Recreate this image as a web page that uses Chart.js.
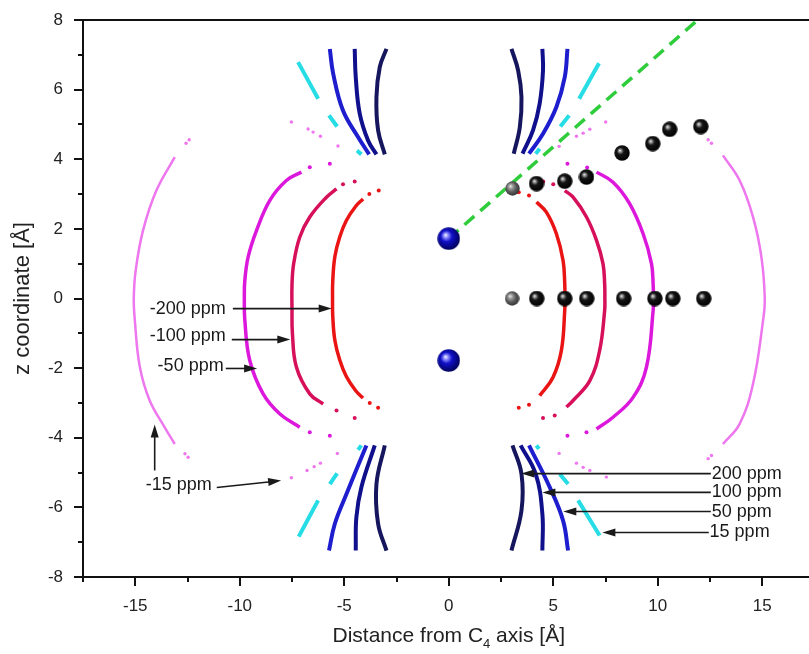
<!DOCTYPE html>
<html lang="en">
<head>
<meta charset="UTF-8">
<title>Shielding contours around the C4 axis</title>
<script src="https://cdn.jsdelivr.net/npm/chart.js"></script>
<style>
  html, body { margin: 0; padding: 0; background: #fff; overflow: hidden; }
  #wrap { width: 827px; height: 654px; }
</style>
</head>
<body>
<div id="wrap"><canvas id="chart" width="827" height="654"></canvas></div>
<script>
// contour points, [distance from C4 axis, z] in Angstrom
// null = break between separate branches
const neg200Line = [[-4.1,2.86],[-4.45,2.65],[-4.9,2.24],[-5.22,1.76],[-5.45,1.2],[-5.55,0.5],[-5.56,0],[-5.55,-0.5],[-5.45,-1.2],[-5.22,-1.76],[-4.9,-2.24],[-4.45,-2.65],[-4.1,-2.86],
  null,[4.2,2.77],[4.67,2.48],[5.15,1.86],[5.47,1.09],[5.55,0.42],[5.56,0],[5.55,-0.34],[5.39,-1.49],[4.99,-2.26],[4.35,-2.79]];
const neg200Dots = [[-3.35,3.1],[-3.8,3.0],[-3.38,-3.14],[-3.78,-3.0],[3.35,3.05],[3.84,2.96],[3.84,-3.05],[3.35,-3.14]];

const neg100Line = [[-5.37,3.15],[-5.85,2.91],[-6.65,2.34],[-7.13,1.76],[-7.42,1.0],[-7.5,0.4],[-7.5,-0.3],[-7.48,-1.0],[-7.29,-1.97],[-6.65,-2.74],[-6.01,-3.03],
  null,[5.55,3.1],[5.95,2.91],[6.59,2.34],[7.07,1.67],[7.38,1.0],[7.46,0.42],[7.47,0],[7.46,-0.34],[7.22,-1.49],[6.75,-2.36],[5.95,-2.93],[5.63,-3.12]];
const neg100Dots = [[-4.5,3.36],[-5.06,3.28],[-5.37,-3.22],[-4.5,-3.43],[4.52,3.36],[5.0,3.28],[5.07,-3.36],[4.51,-3.43]];

const neg50Line = [[-7.05,3.63],[-7.77,3.39],[-8.56,2.82],[-9.2,1.95],[-9.6,1.19],[-9.76,0.5],[-9.78,0],[-9.76,-0.6],[-9.52,-1.78],[-8.88,-2.74],[-8.09,-3.31],[-7.13,-3.7],
  null,[7.07,3.63],[7.86,3.34],[8.66,2.72],[9.3,1.86],[9.7,1.0],[9.78,0.4],[9.79,0],[9.78,-0.34],[9.46,-1.97],[8.82,-2.84],[7.86,-3.41],[7.07,-3.75]];
const neg50Dots = [[-6.65,3.77],[-5.69,3.87],[-6.65,-3.84],[-5.69,-3.94],[6.62,3.76],[5.68,3.87],[6.59,-3.84],[5.68,-3.94]];

const neg15Line = [[-13.11,4.06],[-13.99,3.1],[-14.63,1.95],[-14.98,0.8],[-15.07,0],[-15.02,-0.63],[-14.78,-1.97],[-14.31,-2.93],[-13.59,-3.7],[-13.11,-4.18],
  null,[13.12,4.11],[13.92,3.39],[14.56,2.34],[14.96,1.19],[15.12,0],[15.04,-0.63],[14.56,-2.45],[13.92,-3.6],[13.12,-4.18]];
const neg15Dots = [[-12.42,4.56],[-12.57,4.46],[-12.47,-4.56],[-12.62,-4.46],[12.41,4.56],[12.57,4.46],[12.57,-4.51],[12.41,-4.6],
  [-7.53,5.07],[-6.73,4.87],[-6.49,4.78],[-6.14,4.66],[-5.3,4.38],[-7.53,-5.15],[-6.78,-4.94],[-6.44,-4.83],[-6.14,-4.73],[-5.33,-4.45],
  [7.51,5.07],[6.75,4.86],[6.43,4.75],[6.11,4.66],[5.28,4.37],[7.54,-5.13],[6.75,-4.94],[6.43,-4.85],[6.11,-4.73],[5.28,-4.45]];

const pos15Line = [[-7.21,6.79],[-6.25,5.74],null,[-5.73,5.26],[-5.34,4.94],null,[-4.39,4.25],[-4.18,4.14],null,
  [7.19,6.76],[6.24,5.74],null,[5.76,5.26],[5.34,4.94],null,[4.35,4.3],[4.16,4.16],null,
  [-6.25,-5.8],[-7.18,-6.84],null,[-5.34,-5.02],[-5.69,-5.33],null,[-4.18,-4.22],[-4.34,-4.35],null,
  [6.19,-5.8],[7.22,-6.81],null,[5.31,-5.04],[5.71,-5.33],null,[4.19,-4.22],[4.32,-4.32]];

const pos50Line = [[3.84,4.16],[4.51,4.73],[5.15,5.5],[5.55,6.36],[5.68,7.17],null,
  [-3.81,4.14],[-4.34,4.64],[-5.06,5.4],[-5.53,6.46],[-5.69,7.17],null,
  [3.84,-4.22],[4.83,-5.42],[5.47,-6.38],[5.71,-7.24],null,
  [-3.94,-4.22],[-4.89,-5.61],[-5.45,-6.47],[-5.73,-7.24]];
const pos100Line = [[3.53,4.16],[4.03,4.83],[4.35,5.6],[4.51,6.55],[4.48,7.17],null,
  [-3.46,4.14],[-3.86,4.54],[-4.26,5.31],[-4.45,6.36],[-4.5,7.17],null,
  [3.44,-4.22],[4.16,-5.04],[4.48,-6.19],[4.48,-7.24],null,
  [-3.54,-4.22],[-4.18,-5.42],[-4.42,-6.28],[-4.45,-7.24]];
const pos200Line = [[3.11,4.16],[3.4,4.92],[3.48,5.78],[3.32,6.55],[3.0,7.17],null,
  [-3.06,4.14],[-3.38,4.83],[-3.46,5.78],[-3.3,6.65],[-2.98,7.17],null,
  [3.05,-4.22],[3.48,-5.04],[3.48,-6.09],[3.0,-7.24],null,
  [-3.06,-4.22],[-3.46,-5.33],[-3.38,-6.47],[-2.98,-7.24]];

// atoms and the tilted direction
const blueAtoms = [[0,1.72],[0,-1.78]];
const greyAtoms = [[3.05,3.16],[3.03,0]];
const blackAtoms = [[4.2,3.3],[5.55,3.37],[6.59,3.49],[8.29,4.18],[9.76,4.45],[10.57,4.86],[12.06,4.94],
  [4.21,0],[5.55,0],[6.6,0],[8.37,0],[9.86,0],[10.72,0],[12.2,0]];
const greenDir = [[0,1.72],[12.1,8.1]];

// callouts: text, where the text sits, arrow tail -> head
const notes = [
  { text: '-200 ppm', at: [-10.67,-0.29], align: 'right', from: [-10.33,-0.29], to: [-5.6,-0.29] },
  { text: '-100 ppm', at: [-10.67,-1.09], align: 'right', from: [-10.38,-1.18], to: [-7.58,-1.18] },
  { text: '-50 ppm',  at: [-10.77,-1.93], align: 'right', from: [-10.67,-2.01], to: [-9.17,-2.01] },
  { text: '-15 ppm',  at: [-14.5,-5.37],  align: 'left',  from: [-11.1,-5.43], to: [-8.02,-5.23] },
  { text: '',         at: [0,0],          align: 'left',  from: [-14.07,-4.94], to: [-14.07,-3.62] },
  { text: '200 ppm',  at: [12.58,-5.03],  align: 'left',  from: [12.54,-5.03], to: [3.47,-5.03] },
  { text: '100 ppm',  at: [12.58,-5.57],  align: 'left',  from: [12.54,-5.57], to: [4.48,-5.57] },
  { text: '50 ppm',   at: [12.58,-6.12],  align: 'left',  from: [12.54,-6.12], to: [5.48,-6.12] },
  { text: '15 ppm',   at: [12.48,-6.72],  align: 'left',  from: [12.44,-6.72], to: [7.35,-6.72] }
];

const FONT = '"Liberation Sans", Arial, sans-serif';

// NaN points break the line between branches
const pts = arr => arr.map(p => p ? { x: p[0], y: p[1] } : { x: NaN, y: NaN });

function ball(d, stops) {
  const c = document.createElement('canvas');
  c.width = d; c.height = d;
  const g = c.getContext('2d');
  const grad = g.createRadialGradient(d * 0.36, d * 0.34, 0, d * 0.45, d * 0.45, d * 0.55);
  stops.forEach(s => grad.addColorStop(s[0], s[1]));
  g.fillStyle = grad;
  g.beginPath();
  g.arc(d / 2, d / 2, d / 2 - 0.3, 0, Math.PI * 2);
  g.fill();
  return c;
}
const blueBall = ball(23, [[0, '#ffffff'], [0.18, '#8f8fff'], [0.45, '#1010c8'], [1, '#00005a']]);
const blackBall = ball(16, [[0, '#ffffff'], [0.15, '#9a9a9a'], [0.4, '#151515'], [1, '#000000']]);
const greyBall = ball(15, [[0, '#f0f0f0'], [0.25, '#a0a0a0'], [0.6, '#5a5a5a'], [1, '#333333']]);

const line = (data, color, w) => ({
  data: pts(data), showLine: true, borderColor: color, borderWidth: w,
  pointRadius: 0, tension: 0.4, spanGaps: false, fill: false
});
const dots = (data, color, r) => ({
  data: pts(data), showLine: false, backgroundColor: color, borderWidth: 0, pointRadius: r, pointHoverRadius: r
});
const atoms = (data, img) => ({
  data: pts(data), showLine: false, pointStyle: img, pointRadius: img.width / 2
});

// drop the label overhang Chart.js reserves, so the plot box is exactly where we want it
const noPad = s => { s.paddingTop = 0; s.paddingBottom = 0; s.paddingLeft = 0; s.paddingRight = 0; };

const frame = {
  id: 'frame',
  afterDraw(chart) {
    const { ctx, chartArea: a, scales: { x, y } } = chart;
    ctx.save();
    ctx.strokeStyle = '#111';
    ctx.lineWidth = 2;
    ctx.strokeRect(a.left, a.top, a.right - a.left, a.bottom - a.top);
    ctx.beginPath();
    for (let v = -8; v <= 8; v++) {
      const py = Math.round(y.getPixelForValue(v));
      const len = v % 2 === 0 ? 9 : 5;
      ctx.moveTo(a.left - len, py); ctx.lineTo(a.left, py);
    }
    for (let v = -17.5; v <= 17.5; v += 2.5) {
      const px = Math.round(x.getPixelForValue(v));
      const len = v % 5 === 0 ? 9 : 5;
      ctx.moveTo(px, a.bottom); ctx.lineTo(px, a.bottom + len);
    }
    ctx.stroke();

    // callouts
    ctx.fillStyle = '#1a1a1a';
    ctx.strokeStyle = '#1a1a1a';
    ctx.font = '18px ' + FONT;
    ctx.textBaseline = 'middle';
    notes.forEach(n => {
      const x1 = x.getPixelForValue(n.from[0]), y1 = y.getPixelForValue(n.from[1]);
      const x2 = x.getPixelForValue(n.to[0]), y2 = y.getPixelForValue(n.to[1]);
      const ang = Math.atan2(y2 - y1, x2 - x1);
      const hl = 13, hw = 4;
      ctx.lineWidth = 1.6;
      ctx.beginPath();
      ctx.moveTo(x1, y1);
      ctx.lineTo(x2 - Math.cos(ang) * hl * 0.8, y2 - Math.sin(ang) * hl * 0.8);
      ctx.stroke();
      ctx.beginPath();
      ctx.moveTo(x2, y2);
      ctx.lineTo(x2 - Math.cos(ang) * hl - Math.sin(ang) * hw, y2 - Math.sin(ang) * hl + Math.cos(ang) * hw);
      ctx.lineTo(x2 - Math.cos(ang) * hl + Math.sin(ang) * hw, y2 - Math.sin(ang) * hl - Math.cos(ang) * hw);
      ctx.closePath();
      ctx.fill();
      if (n.text) {
        ctx.textAlign = n.align;
        ctx.fillText(n.text, x.getPixelForValue(n.at[0]), y.getPixelForValue(n.at[1]));
      }
    });

    // axis titles
    ctx.fillStyle = '#222';
    ctx.font = '22px ' + FONT;
    ctx.textAlign = 'center';
    ctx.save();
    ctx.translate(23, (a.top + a.bottom) / 2);
    ctx.rotate(-Math.PI / 2);
    ctx.fillText('z coordinate [Å]', 0, 0);
    ctx.restore();

    const p1 = 'Distance from C', sub = '4', p2 = ' axis [Å]';
    const big = '21px ' + FONT, small = '13px ' + FONT;
    ctx.font = big;
    const w1 = ctx.measureText(p1).width, w3 = ctx.measureText(p2).width;
    ctx.font = small;
    const w2 = ctx.measureText(sub).width;
    const sx = x.getPixelForValue(0) - (w1 + w2 + w3) / 2;
    const ty = 636;
    ctx.textAlign = 'left';
    ctx.font = big;
    ctx.fillText(p1, sx, ty);
    ctx.font = small;
    ctx.fillText(sub, sx + w1, ty + 8);
    ctx.font = big;
    ctx.fillText(p2, sx + w1 + w2, ty);
    ctx.restore();
  }
};

new Chart(document.getElementById('chart').getContext('2d'), {
  type: 'scatter',
  data: {
    datasets: [
      atoms(blueAtoms, blueBall),
      atoms(greyAtoms, greyBall),
      atoms(blackAtoms, blackBall),
      Object.assign(line(greenDir, '#2fcc3c', 3.5), { tension: 0, borderDash: [13, 8] }),
      line(pos200Line, '#16165e', 4),
      line(pos100Line, '#10108c', 4),
      line(pos50Line, '#1e1ecf', 4),
      line(pos15Line, '#26dde6', 4),
      line(neg200Line, '#ea1414', 3.5),
      dots(neg200Dots, '#ea1414', 2),
      line(neg100Line, '#d6105a', 3.5),
      dots(neg100Dots, '#d6105a', 2),
      line(neg50Line, '#dc18dc', 3.5),
      dots(neg50Dots, '#dc18dc', 2),
      line(neg15Line, '#ee76ee', 2.5),
      dots(neg15Dots, '#ee76ee', 1.7)
    ]
  },
  options: {
    responsive: false,
    animation: false,
    events: [],
    layout: { padding: { top: 20, right: 2, left: 0, bottom: 0 } },
    plugins: { legend: { display: false }, tooltip: { enabled: false } },
    scales: {
      x: {
        type: 'linear', min: -17.5, max: 17.5,
        afterFit: s => { s.height = 77; noPad(s); },
        grid: { display: false, drawTicks: false },
        border: { display: false },
        ticks: {
          stepSize: 2.5, autoSkip: false, maxRotation: 0, padding: 19,
          color: '#222', font: { family: FONT, size: 17 },
          callback: v => (v % 5 === 0 && Math.abs(v) < 17) ? String(v) : ''
        }
      },
      y: {
        type: 'linear', min: -8, max: 8,
        afterFit: s => { s.width = 83; noPad(s); },
        grid: { display: false, drawTicks: false },
        border: { display: false },
        ticks: {
          stepSize: 1, autoSkip: false, padding: 20,
          color: '#222', font: { family: FONT, size: 17 },
          callback: v => v % 2 === 0 ? String(v) : ''
        }
      }
    }
  },
  plugins: [frame]
});
</script>
</body>
</html>
